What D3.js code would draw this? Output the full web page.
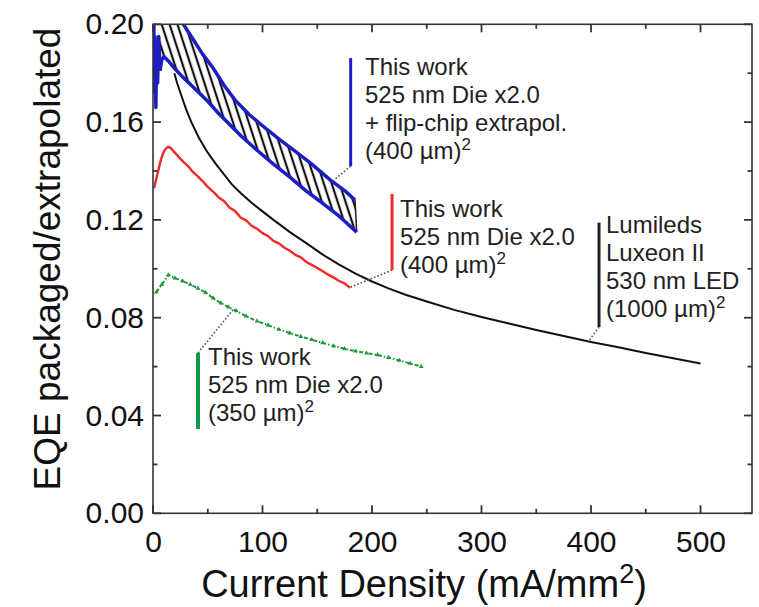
<!DOCTYPE html>
<html>
<head>
<meta charset="utf-8">
<script src="https://cdn.jsdelivr.net/npm/d3@7"></script>
<style>
  html, body { margin: 0; padding: 0; background: #fff; }
  svg { display: block; font-family: "Liberation Sans", Arial, sans-serif; }
</style>
</head>
<body>
<svg id="chart" width="759" height="607"></svg>
<script>
// ---- axis ticks ----
const xTicks = [0, 100, 200, 300, 400, 500];
const xMinorTicks = [50, 150, 250, 350, 450];
const yTicks = [0, 0.04, 0.08, 0.12, 0.16, 0.20];
const yMinorTicks = [0.02, 0.06, 0.10, 0.14, 0.18];

// ---- series: [current density (mA/mm^2), EQE] ----
// Lumileds Luxeon II, 530 nm, (1000 um)^2
const lumileds = [[19.5,0.180],[22,0.176],[25,0.172],[30,0.1655],[35,0.160],[42,0.1535],[50,0.1475],[58,0.1425],[65,0.1385],[72,0.1345],[80,0.1310],[90,0.1270],[100,0.1235],[110,0.1200],[125,0.1150],[140,0.1105],[155,0.1058],[170,0.1017],[185,0.0980],[200,0.0948],[215,0.0920],[230,0.0895],[250,0.0866],[275,0.0832],[300,0.0803],[325,0.0776],[350,0.0750],[375,0.0725],[400,0.0701],[425,0.0679],[450,0.0656],[475,0.0634],[500,0.0613]];

// This work, 525 nm die x2.0, (400 um)^2
const die400 = [[1,0.1330],[3,0.1368],[5,0.1405],[7,0.1442],[9,0.1470],[11,0.1488],[13,0.1497],[15,0.1498],[17,0.1490],[20,0.1475],[24,0.1455],[28,0.1436],[32,0.1420],[36,0.1398],[40,0.1382],[45,0.1360],[50,0.1335],[55,0.1315],[60,0.1292],[65,0.1276],[70,0.1250],[75,0.1236],[80,0.1210],[85,0.1198],[90,0.1176],[95,0.1164],[100,0.1146],[105,0.1134],[110,0.1114],[115,0.1104],[120,0.1086],[125,0.1074],[130,0.1057],[135,0.1047],[140,0.1028],[145,0.1016],[150,0.1003],[155,0.0990],[160,0.0976],[165,0.0964],[170,0.0950],[175,0.0940],[180,0.0922]];

// This work, 525 nm die x2.0, (350 um)^2
const die350 = [[3,0.0905],[8,0.0935],[14,0.0975],[20,0.0962],[27,0.0950],[34,0.0936],[41,0.0920],[48,0.0903],[55,0.0880],[62,0.0860],[69,0.0843],[76,0.0828],[85,0.0806],[95,0.0786],[105,0.0770],[115,0.0752],[125,0.0737],[135,0.0723],[145,0.0710],[155,0.0697],[165,0.0684],[175,0.0673],[185,0.0663],[195,0.0655],[205,0.0648],[215,0.0637],[225,0.0625],[235,0.0613],[245,0.0600]];

// Flip-chip extrapolation band (400 um)^2: upper and lower bounds
const flipUpper = [[3,0.2150],[10,0.2110],[18,0.2060],[27.7,0.2000],[35,0.1950],[45,0.1880],[55,0.1820],[65,0.1750],[75,0.1690],[88,0.1630],[100,0.1585],[116,0.1527],[130,0.1480],[145,0.1428],[162,0.1363],[175,0.1320],[184.5,0.1281]];
const flipLower = [[6.4,0.1810],[8,0.1855],[10,0.1868],[14,0.1850],[20,0.1818],[27,0.1785],[34,0.1755],[42,0.1720],[50,0.1685],[60,0.1635],[70,0.1590],[80,0.1545],[95,0.1485],[110,0.1428],[125,0.1375],[140,0.1318],[155,0.1268],[170,0.1215],[186,0.1150]];
// low-current start of the flip-chip data
const flipStart = [[0.8,0.200],[1.2,0.172],[1.8,0.195],[2.6,0.166],[3.4,0.190],[4.2,0.176],[5.2,0.195],[6.4,0.181]];

// ---- annotation texts ----
const noteBlue  = ["This work", "525 nm Die x2.0", "+ flip-chip extrapol.", "(400 µm)^2"];
const noteRed   = ["This work", "525 nm Die x2.0", "(400 µm)^2"];
const noteBlack = ["Lumileds", "Luxeon II", "530 nm LED", "(1000 µm)^2"];
const noteGreen = ["This work", "525 nm Die x2.0", "(350 µm)^2"];

// ---- layout ----
const svg = d3.select("#chart");
const plot = { left: 153, right: 752, top: 24.3, bottom: 513.3 };

const x = d3.scaleLinear().domain([0, 547]).range([plot.left, plot.right]);
const y = d3.scaleLinear().domain([0, 0.20]).range([plot.bottom, plot.top]);

const COLORS = {
  blue: "#1d1dc4", red: "#f02a26", black: "#111", green: "#1d9a3e",
  greenBar: "#0c9a4a", text: "#222", frame: "#333"
};

const defs = svg.append("defs");
// clip to the plotting frame
defs.append("clipPath").attr("id", "plotClip")
  .append("rect")
  .attr("x", plot.left).attr("y", plot.top)
  .attr("width", plot.right - plot.left).attr("height", plot.bottom - plot.top);

// diagonal hatch used for the extrapolated band
const hatch = defs.append("pattern")
  .attr("id", "hatch")
  .attr("patternUnits", "userSpaceOnUse")
  .attr("width", 7.5).attr("height", 7.5)
  .attr("patternTransform", "rotate(72)");
hatch.append("rect").attr("width", 7.5).attr("height", 7.5).attr("fill", "#fff");
hatch.append("line")
  .attr("x1", -1).attr("y1", 3.75).attr("x2", 8.5).attr("y2", 3.75)
  .attr("stroke", "#111").attr("stroke-width", 2.2);

const line = d3.line().x(d => x(d[0])).y(d => y(d[1]));
const g = svg.append("g").attr("clip-path", "url(#plotClip)");

// hatched band between the bounds
const bandOutline = flipUpper.concat(flipLower.slice().reverse());
g.append("path")
  .attr("d", line(bandOutline) + "Z")
  .attr("fill", "url(#hatch)")
  .attr("stroke", "none");
// closing edge at the high-current end
g.append("path")
  .attr("d", line([flipUpper[flipUpper.length - 1], flipLower[flipLower.length - 1]]))
  .attr("stroke", "#222").attr("stroke-width", 1.5).attr("fill", "none");
// blue bound lines
[flipUpper, flipLower, flipStart].forEach(s => {
  g.append("path")
    .attr("d", line(s))
    .attr("fill", "none")
    .attr("stroke", COLORS.blue)
    .attr("stroke-width", 3.5)
    .attr("stroke-linejoin", "round");
});

// Lumileds curve
g.append("path").attr("d", line(lumileds))
  .attr("fill", "none").attr("stroke", COLORS.black).attr("stroke-width", 2);

// (400 um)^2 die
g.append("path").attr("d", line(die400))
  .attr("fill", "none").attr("stroke", COLORS.red).attr("stroke-width", 2.4)
  .attr("stroke-linejoin", "round");

// (350 um)^2 die: dash-dot with small markers
g.append("path").attr("d", line(die350))
  .attr("fill", "none").attr("stroke", COLORS.green).attr("stroke-width", 2)
  .attr("stroke-dasharray", "4,2,1.5,2");
g.selectAll("path.mk").data(die350).enter().append("path")
  .attr("class", "mk")
  .attr("transform", d => `translate(${x(d[0])},${y(d[1])})`)
  .attr("d", d3.symbol().type(d3.symbolTriangle).size(10))
  .attr("fill", COLORS.green);

// ---- frame ----
svg.append("rect")
  .attr("x", plot.left).attr("y", plot.top)
  .attr("width", plot.right - plot.left).attr("height", plot.bottom - plot.top)
  .attr("fill", "none").attr("stroke", COLORS.frame).attr("stroke-width", 1.6);

// ---- inward ticks on all four sides ----
const tickG = svg.append("g").attr("stroke", COLORS.frame).attr("stroke-width", 1.8);
function xTickMarks(values, len) {
  values.forEach(v => {
    tickG.append("line").attr("x1", x(v)).attr("x2", x(v))
      .attr("y1", plot.bottom).attr("y2", plot.bottom - len);
    tickG.append("line").attr("x1", x(v)).attr("x2", x(v))
      .attr("y1", plot.top).attr("y2", plot.top + len);
  });
}
function yTickMarks(values, len) {
  values.forEach(v => {
    tickG.append("line").attr("y1", y(v)).attr("y2", y(v))
      .attr("x1", plot.left).attr("x2", plot.left + len);
    tickG.append("line").attr("y1", y(v)).attr("y2", y(v))
      .attr("x1", plot.right).attr("x2", plot.right - len);
  });
}
xTickMarks(xTicks, 8);
xTickMarks(xMinorTicks, 4.5);
yTickMarks(yTicks, 8);
yTickMarks(yMinorTicks, 4.5);

// ---- tick labels via d3 axes ----
const bottom = svg.append("g").attr("transform", `translate(0,${plot.bottom})`)
  .call(d3.axisBottom(x).tickValues(xTicks).tickSize(0).tickPadding(17).tickFormat(d3.format("d")));
bottom.select(".domain").remove();
bottom.selectAll("text").attr("font-size", 30).attr("fill", "#111")
  .attr("font-family", "'Liberation Sans', Arial, sans-serif");

const left = svg.append("g").attr("transform", `translate(${plot.left},0)`)
  .call(d3.axisLeft(y).tickValues(yTicks).tickSize(0).tickPadding(9).tickFormat(d3.format(".2f")));
left.select(".domain").remove();
left.selectAll("text").attr("font-size", 30).attr("fill", "#111")
  .attr("font-family", "'Liberation Sans', Arial, sans-serif");

// ---- axis titles ----
const xTitle = svg.append("text")
  .attr("x", 424).attr("y", 597)
  .attr("text-anchor", "middle").attr("font-size", 38).attr("fill", "#111");
xTitle.append("tspan").text("Current Density (mA/mm");
xTitle.append("tspan").attr("font-size", 27).attr("dy", -14).text("2");
xTitle.append("tspan").attr("dy", 14).text(")");

svg.append("text")
  .attr("transform", "translate(60,259) rotate(-90)")
  .attr("text-anchor", "middle").attr("font-size", 37).attr("fill", "#111")
  .text("EQE packaged/extrapolated");

// ---- annotations (positions in data units) ----
const notes = [
  { lines: noteBlue,  color: COLORS.blue,     width: 3, bar: [180.5, 0.1862, 0.1420], from: "bottom", target: [163.5, 0.1356], text: [193.6, 0.1793] },
  { lines: noteRed,   color: COLORS.red,      width: 3, bar: [218.3, 0.1306, 0.0995], from: "bottom", target: [180.0, 0.0924], text: [225.6, 0.1212] },
  { lines: noteBlack, color: "#222",          width: 3, bar: [407.3, 0.1189, 0.0762], from: "bottom", target: [397.5, 0.0702], text: [413.7, 0.1146] },
  { lines: noteGreen, color: COLORS.greenBar, width: 4, bar: [41.1, 0.0656, 0.0345],  from: "top",    target: [73.0, 0.0832],  text: [50.2, 0.0606] }
];
const LINE_H = 28;

notes.forEach(n => {
  const bx = x(n.bar[0]);
  const startY = n.from === "bottom" ? y(n.bar[2]) : y(n.bar[1]);
  // dotted leader to the curve
  svg.append("line")
    .attr("x1", bx).attr("y1", startY)
    .attr("x2", x(n.target[0])).attr("y2", y(n.target[1]))
    .attr("stroke", "#555").attr("stroke-width", 1.6)
    .attr("stroke-dasharray", "1.6,2");
  // coloured bar
  svg.append("line")
    .attr("x1", bx).attr("x2", bx)
    .attr("y1", y(n.bar[1])).attr("y2", y(n.bar[2]))
    .attr("stroke", n.color).attr("stroke-width", n.width);
  // text block
  const tx = x(n.text[0]), ty = y(n.text[1]);
  n.lines.forEach((s, i) => {
    const t = svg.append("text")
      .attr("x", tx).attr("y", ty + i * LINE_H)
      .attr("font-size", 24).attr("fill", COLORS.text);
    const parts = s.split("^");
    t.append("tspan").text(parts[0]);
    if (parts[1]) {
      t.append("tspan").attr("font-size", 17).attr("dy", -9).text(parts[1]);
    }
  });
});
</script>
</body>
</html>
